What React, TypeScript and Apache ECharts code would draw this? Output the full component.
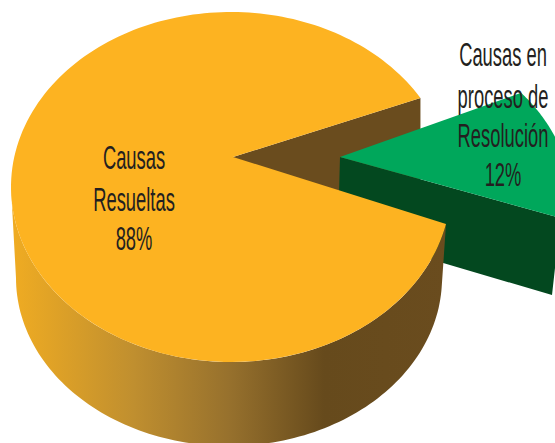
import React, { useEffect, useRef } from "react";
import * as echarts from "echarts";

const sliceValues = [88, 12];
const sliceNames = [["Causas", "Resueltas"], ["Causas en", "proceso de", "Resolución"]];

const ORANGE = "#fdb321";
const BROWN = "#6a4c1e";
const GREEN = "#00a75b";
const DARK_GREEN = "#03481f";
const INK = "#231f20";
const K = 0.795;
const DEG = Math.PI / 180;

type Pt = [number, number];
type Ell = { cx: number; cy: number; rx: number; ry: number };

const mainTop: Ell = { cx: 231, cy: 187, rx: 220, ry: 175 };
const mainBottom: Ell = { cx: 229, cy: 278, rx: 213, ry: 168 };
const mainApex: Pt = [233, 157];
const mainDepth = 90;
const greenTop: Ell = { cx: 333, cy: 200, rx: 238, ry: 175 };
const greenApex: Pt = [340, 157];
const greenApexBottom: Pt = [338, 232];
const greenCornerUpper: Pt = [557, 250];
const greenCorner: Pt = [552, 295];
const greenTilt = -2.4;

const mainLabel = { x: 134, y: [157, 199, 238] };
const greenLabel = { x: 503, y: [54, 96, 135, 174] };

function ray(apex: Pt, e: Ell, theta: number): Pt {
  const dx = Math.cos(theta);
  const dy = K * Math.sin(theta);
  const ox = apex[0] - e.cx;
  const oy = apex[1] - e.cy;
  const a = (dx * dx) / (e.rx * e.rx) + (dy * dy) / (e.ry * e.ry);
  const b = 2 * ((ox * dx) / (e.rx * e.rx) + (oy * dy) / (e.ry * e.ry));
  const c = (ox * ox) / (e.rx * e.rx) + (oy * oy) / (e.ry * e.ry) - 1;
  const s = (-b + Math.sqrt(b * b - 4 * a * c)) / (2 * a);
  return [apex[0] + s * dx, apex[1] + s * dy];
}

function sweep(apex: Pt, e: Ell, from: number, to: number, steps = 180): Pt[] {
  const out: Pt[] = [];
  for (let i = 0; i <= steps; i++) out.push(ray(apex, e, from + ((to - from) * i) / steps));
  return out;
}

function arc(e: Ell, from: number, to: number, steps = 120): Pt[] {
  const out: Pt[] = [];
  for (let i = 0; i <= steps; i++) {
    const t = from + ((to - from) * i) / steps;
    out.push([e.cx + e.rx * Math.cos(t), e.cy + e.ry * Math.sin(t)]);
  }
  return out;
}

function paramOf(e: Ell, p: Pt): number {
  return Math.atan2((p[1] - e.cy) / e.ry, (p[0] - e.cx) / e.rx);
}

function textEl(text: string, x: number, y: number, fontSize: number, scaleX: number) {
  return {
    type: "text",
    x,
    y,
    scaleX,
    z2: 30,
    style: {
      text,
      fill: INK,
      fontFamily: "'Liberation Sans Narrow', 'Liberation Sans', sans-serif",
      fontSize,
      align: "center",
      verticalAlign: "middle",
    },
  };
}

const total = sliceValues.reduce((a, b) => a + b, 0);

function renderItem(params: any, api: any) {
  const value = api.value(0) as number;
  const other = total - value;
  if (params.dataIndex === 0) {
    const half = ((other / total) * 2 * Math.PI) / 2;
    const topFace: Pt[] = [mainApex, ...sweep(mainApex, mainTop, half, 2 * Math.PI - half)];
    const p2 = ray(mainApex, mainTop, half);
    const p1 = ray(mainApex, mainTop, -half);
    const wall: Pt[] = [...arc(mainTop, paramOf(mainTop, p2), Math.PI), ...arc(mainBottom, Math.PI, 0.05)];
    const inner: Pt[] = [mainApex, p1, [p1[0], p1[1] + mainDepth], [mainApex[0], mainApex[1] + mainDepth]];
    const lines = [...sliceNames[0], `${value}%`];
    return {
      type: "group",
      children: [
        { type: "polygon", z2: 1, shape: { points: inner }, style: { fill: BROWN } },
        {
          type: "polygon",
          z2: 10,
          shape: { points: wall },
          style: {
            fill: {
              type: "linear", x: 0, y: 0, x2: 1, y2: 0,
              colorStops: [
                { offset: 0, color: "#f0ac22" },
                { offset: 0.28, color: "#c08f2f" },
                { offset: 0.5, color: "#97712d" },
                { offset: 0.72, color: "#664a1c" },
                { offset: 1, color: "#6a4c1e" },
              ],
            },
          },
        },
        { type: "polygon", z2: 11, shape: { points: topFace }, style: { fill: ORANGE } },
        ...lines.map((t, i) => textEl(t, mainLabel.x, mainLabel.y[i], 34, 0.54)),
      ],
    };
  }
  const half = ((value / total) * 2 * Math.PI) / 2;
  const a = (greenTilt * DEG) - half;
  const b = (greenTilt * DEG) + half;
  const top: Pt[] = [greenApex, ...sweep(greenApex, greenTop, a, b, 60)];
  const p2 = ray(greenApex, greenTop, b);
  const side: Pt[] = [greenApex, p2, greenCornerUpper, greenCorner, greenApexBottom];
  const lines = [...sliceNames[1], `${value}%`];
  return {
    type: "group",
    children: [
      { type: "polygon", z2: 5, shape: { points: side }, style: { fill: DARK_GREEN } },
      { type: "polygon", z2: 6, shape: { points: top }, style: { fill: GREEN } },
      ...lines.map((t, i) => textEl(t, greenLabel.x, greenLabel.y[i], 34, 0.54)),
    ],
  };
}

export default function App() {
  const ref = useRef<HTMLDivElement>(null);
  useEffect(() => {
    const chart = echarts.init(ref.current!, undefined, { renderer: "svg" });
    chart.setOption({
      animation: false,
      backgroundColor: "#ffffff",
      series: [
        {
          type: "custom",
          coordinateSystem: "none",
          silent: true,
          clip: false,
          renderItem,
          data: sliceValues.map((v) => [v]),
        },
      ],
    });
    return () => chart.dispose();
  }, []);
  return <div ref={ref} style={{ position: "fixed", left: 0, top: 0, width: 555, height: 443 }} />;
}
